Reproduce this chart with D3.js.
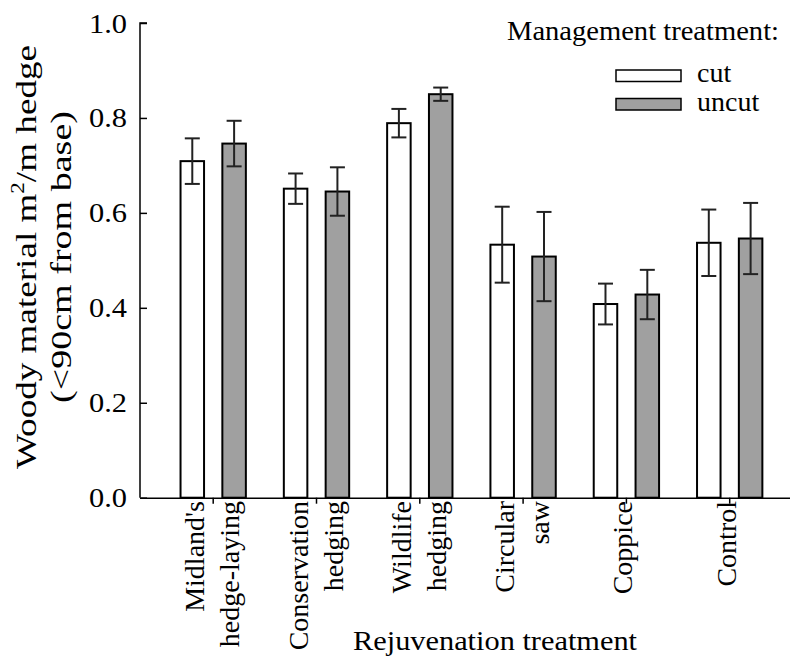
<!DOCTYPE html>
<html>
<head>
<meta charset="utf-8">
<script src="https://cdn.jsdelivr.net/npm/d3@7"></script>
<style>
  html, body { margin: 0; padding: 0; background: #fff; }
  svg text { font-family: "Liberation Serif", "Times New Roman", serif; fill: #000; }
</style>
</head>
<body>
<svg id="chart" width="790" height="659"></svg>
<script>
// ---- data ----
const categories = [["Midland's", "hedge-laying"], ["Conservation", "hedging"], ["Wildlife", "hedging"], ["Circular", "saw"], ["Coppice"], ["Control"]];
const seriesNames = ["cut", "uncut"];
const cutValues   = [0.709, 0.651, 0.789, 0.533, 0.408, 0.537];
const cutErrors   = [0.048, 0.032, 0.030, 0.080, 0.043, 0.070];
const uncutValues = [0.746, 0.645, 0.850, 0.508, 0.428, 0.546];
const uncutErrors = [0.048, 0.051, 0.014, 0.094, 0.052, 0.075];
const yTicks = [0, 0.2, 0.4, 0.6, 0.8, 1.0];
const seriesColors = ["#ffffff", "#a0a0a0"];

const svg = d3.select("#chart");
const FS_XLAB = 28, FS_TICK = 28, FS_XTITLE = 28, FS_LEG = 28, FS_YTITLE = 30;

const xAxisY = 497.7, yTop = 23;
const x0 = d3.scaleBand().domain(d3.range(categories.length)).range([161.55, 781.35]).paddingInner(0).paddingOuter(0);
const x1 = d3.scaleBand().domain(seriesNames).range([0, x0.bandwidth()]).paddingInner(0.39).paddingOuter(0.43);
const y = d3.scaleLinear().domain([0, 1]).range([xAxisY, yTop]);

const rows = categories.map((c, i) => ({
  i,
  vals: [
    { s: "cut", v: cutValues[i], e: cutErrors[i], color: seriesColors[0] },
    { s: "uncut", v: uncutValues[i], e: uncutErrors[i], color: seriesColors[1] }
  ]
}));

// bars
const g = svg.append("g");
const groups = g.selectAll("g.grp").data(rows).join("g")
  .attr("class", "grp")
  .attr("transform", d => `translate(${x0(d.i)},0)`);

groups.selectAll("rect").data(d => d.vals).join("rect")
  .attr("x", d => x1(d.s) + 1)
  .attr("width", x1.bandwidth() - 2)
  .attr("y", d => y(d.v))
  .attr("height", d => y(0) - y(d.v))
  .attr("fill", d => d.color)
  .attr("stroke", "#000")
  .attr("stroke-width", 2);

// error bars
const eb = groups.selectAll("g.eb").data(d => d.vals).join("g").attr("class", "eb");
const cxOf = d => x1(d.s) + x1.bandwidth() / 2;
eb.append("line")
  .attr("x1", cxOf).attr("x2", cxOf)
  .attr("y1", d => y(d.v + d.e)).attr("y2", d => y(d.v - d.e))
  .attr("stroke", "#222").attr("stroke-width", 2);
eb.append("line")
  .attr("x1", d => cxOf(d) - 7.5).attr("x2", d => cxOf(d) + 7.5)
  .attr("y1", d => y(d.v + d.e)).attr("y2", d => y(d.v + d.e))
  .attr("stroke", "#222").attr("stroke-width", 2);
eb.append("line")
  .attr("x1", d => cxOf(d) - 7.5).attr("x2", d => cxOf(d) + 7.5)
  .attr("y1", d => y(d.v - d.e)).attr("y2", d => y(d.v - d.e))
  .attr("stroke", "#222").attr("stroke-width", 2);

// y axis
const yAxis = svg.append("g").attr("transform", "translate(140,0)")
  .call(d3.axisRight(y).tickValues(yTicks).tickSize(7).tickFormat(() => ""));
yAxis.select(".domain").attr("d", `M7,${yTop}H0V${xAxisY}`).attr("stroke", "#000").attr("stroke-width", 1.5);
yAxis.selectAll(".tick line").attr("stroke", "#000").attr("stroke-width", 1.5);
svg.append("g").selectAll("text").data(yTicks).join("text")
  .attr("x", 127).attr("y", d => y(d) + 9.5)
  .attr("text-anchor", "end").attr("font-size", FS_TICK)
  .attr("textLength", 38).attr("lengthAdjust", "spacingAndGlyphs")
  .text(d => d.toFixed(1));

// x axis
const xAxis = svg.append("g").attr("transform", `translate(0,${xAxisY})`)
  .call(d3.axisBottom(d3.scaleLinear().domain([0, 1]).range([140, 790])).tickValues([]).tickSizeOuter(0));
xAxis.select(".domain").attr("stroke", "#000").attr("stroke-width", 1.5);
svg.append("g").selectAll("line").data(rows).join("line")
  .attr("x1", d => x0(d.i) + x0.bandwidth() / 2).attr("x2", d => x0(d.i) + x0.bandwidth() / 2)
  .attr("y1", xAxisY).attr("y2", xAxisY + 6)
  .attr("stroke", "#000").attr("stroke-width", 1.5);

// x labels (rotated)
const lab = svg.append("g");
categories.forEach((c, i) => {
  const cx = x0(i) + x0.bandwidth() / 2;
  const offs = c.length === 2 ? [-9, 26] : [6];
  c.forEach((t, k) => {
    const bx = cx + offs[k];
    lab.append("text")
      .attr("transform", `translate(${bx},501) rotate(-90)`)
      .attr("text-anchor", "end").attr("font-size", FS_XLAB)
      .text(t);
  });
});

// x title
svg.append("text").attr("x", 495).attr("y", 650).attr("text-anchor", "middle")
  .attr("font-size", FS_XTITLE)
  .attr("textLength", 284).attr("lengthAdjust", "spacingAndGlyphs")
  .text("Rejuvenation treatment");

// y title
const yt1 = svg.append("text").attr("transform", "translate(36,257) rotate(-90)")
  .attr("text-anchor", "middle").attr("font-size", FS_YTITLE)
  .attr("textLength", 424).attr("lengthAdjust", "spacingAndGlyphs");
yt1.append("tspan").text("Woody material m");
yt1.append("tspan").attr("dy", -12).attr("font-size", FS_YTITLE * 0.62).text("2");
yt1.append("tspan").attr("dy", 12).text("/m hedge");
svg.append("text").attr("transform", "translate(71,257) rotate(-90)")
  .attr("text-anchor", "middle").attr("font-size", FS_YTITLE)
  .attr("textLength", 292).attr("lengthAdjust", "spacingAndGlyphs")
  .text("(<90cm from base)");

// legend
const leg = svg.append("g");
leg.append("text").attr("x", 779).attr("y", 40).attr("text-anchor", "end")
  .attr("font-size", FS_LEG)
  .attr("textLength", 272).attr("lengthAdjust", "spacingAndGlyphs")
  .text("Management treatment:");
seriesNames.forEach((s, k) => {
  const yy = 70 + k * 28.5;
  leg.append("rect").attr("x", 616).attr("y", yy).attr("width", 65).attr("height", 11.5)
    .attr("fill", seriesColors[k]).attr("stroke", "#000").attr("stroke-width", 1.5);
  leg.append("text").attr("x", 697).attr("y", yy + 12).attr("font-size", FS_LEG).text(s);
});
</script>
</body>
</html>
